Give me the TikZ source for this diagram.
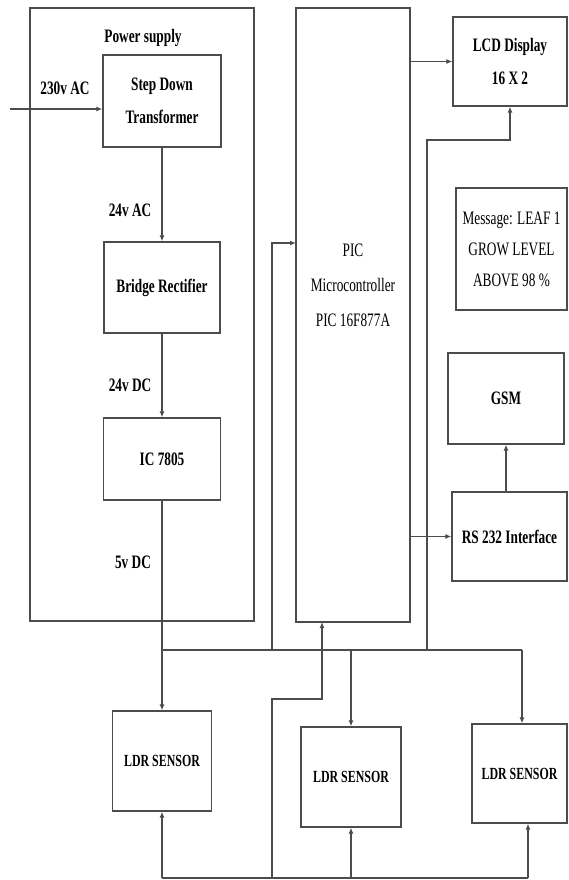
\documentclass[tikz,border=0pt]{standalone}
\usepackage{fontspec}
\setmainfont{Liberation Serif}[FakeStretch=0.7]
\usetikzlibrary{arrows.meta}

\begin{document}
\begin{tikzpicture}[x=1pt,y=-1pt,
  blk/.style 2 args={draw=black!70,line width=1.3pt,inner sep=0pt,
    minimum width=#1pt,minimum height=#2pt,align=center,
    font=\fontsize{19}{33}\selectfont\bfseries},
  lbl/.style={inner sep=0pt,font=\fontsize{19}{22}\selectfont\bfseries},
  wire/.style={draw=black!70,line width=1.3pt},
  arr/.style={wire,-{Latex[length=6pt,width=5pt]}}]
\useasboundingbox[fill=white] (0,0) rectangle (568,880);
% power supply
\node[blk={224}{613}] (psu) at (142,314.5) {};
\node[lbl] (psutitle) at (143,38) {Power supply};
\node[blk={118}{92}] (sdt) at (162,101) {Step Down\\Transformer};
\node[blk={116}{91}] (br) at (162,287.5) {Bridge Rectifier};
\node[blk={117}{82}] (ic) at (162,459) {IC 7805};
\coordinate (acin) at (10,109);
\node[lbl] (aclbl) at (65,88) {230v AC};
\node[lbl] (aclbl2) at (130,210) {24v AC};
\node[lbl] (dclbl) at (130,385) {24v DC};
\node[lbl] (dclbl2) at (133,562) {5v DC};
% controller
\node[blk={114}{614}] (pic) at (353,315) {};
\node[align=center,inner sep=0pt,font=\fontsize{19}{35}\selectfont] (pictext) at (353,285)
  {PIC\\Microcontroller\\PIC 16F877A};
\coordinate (picin) at (296,243);
\coordinate (picbot) at (322,622);
% outputs
\node[blk={114}{89}] (lcd) at (510,61.5) {LCD Display\\16 X 2};
\node[blk={111}{122},font=\fontsize{19}{31}\selectfont] (msg) at (511.5,249)
  {Message: LEAF 1\\GROW LEVEL\\ABOVE 98 \%};
\node[blk={116}{91}] (gsm) at (506,398.5) {GSM};
\node[blk={115}{89}] (rs) at (509.5,536.5) {RS 232 Interface};
% sensors
\node[blk={99}{100},font=\fontsize{17}{20}\selectfont\bfseries] (ldr1) at (162,761) {LDR SENSOR};
\node[blk={100}{100},font=\fontsize{17}{20}\selectfont\bfseries] (ldr2) at (351,777) {LDR SENSOR};
\node[blk={95}{99},font=\fontsize{17}{20}\selectfont\bfseries] (ldr3) at (519.5,773.5) {LDR SENSOR};
% buses
\coordinate (busL) at (162,650);
\coordinate (busR) at (522,650);
\coordinate (tapA) at (272,650);
\coordinate (tapB) at (427,650);
\coordinate (botL) at (162,878);
\coordinate (botR) at (528,878);
\coordinate (tapC) at (272,878);

\draw[arr] (acin) -- (acin -| sdt.west);
\draw[arr] (sdt.south) -- (br.north);
\draw[arr] (br.south) -- (ic.north);
\draw[arr] (ic.south) -- (ldr1.north);
\draw[wire] (busL) -- (busR);
\draw[arr] (tapA) |- (picin);
\draw[arr] (pic.east |- lcd.west) -- (lcd.west);
\draw[arr] (tapB) -- ++(0,-510) -| (lcd.south);
\draw[arr] (pic.east |- rs.west) -- (rs.west);
\draw[arr] (rs.north -| gsm.south) -- (gsm.south);
\draw[arr] (ldr2.north |- busL) -- (ldr2.north);
\draw[arr] (busR) -- (busR |- ldr3.north);
\draw[wire] (botL) -- (botR);
\draw[arr] (botL) -- (ldr1.south);
\draw[arr] (ldr2.south |- botL) -- (ldr2.south);
\draw[arr] (botR) -- (botR |- ldr3.south);
\draw[arr] (tapC) -- ++(0,-179) -| (picbot);
\end{tikzpicture}
\end{document}
